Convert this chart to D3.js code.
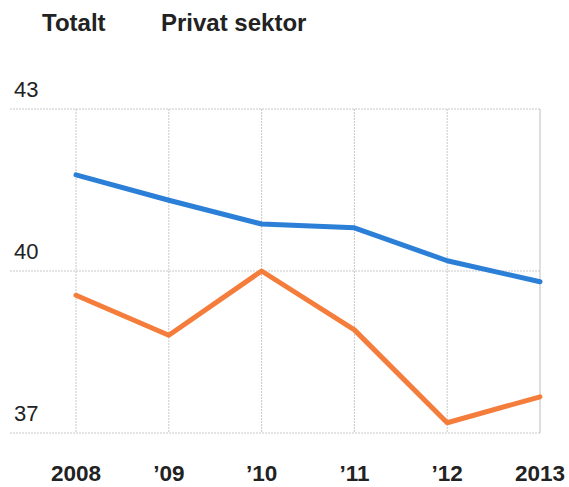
<!DOCTYPE html>
<html><head><meta charset="utf-8">
<script src="https://cdn.jsdelivr.net/npm/d3@7"></script>
<style>body{margin:0;background:#fff;}svg{display:block;font-family:"Liberation Sans",Arial,sans-serif;}</style>
</head><body>
<svg id="c" width="569" height="487"></svg>
<script>
const years = ["2008","’09","’10","’11","’12","2013"];
const totalt = [41.78, 41.31, 40.87, 40.80, 40.19, 39.80];
const privat = [39.55, 38.81, 40.00, 38.91, 37.19, 37.67];
const yTicks = [37, 40, 43];
const legendLabels = ["Totalt", "Privat sektor"];

const svg = d3.select("#c");
const x = d3.scalePoint().domain(years).range([76, 540]);
const y = d3.scaleLinear().domain([37, 43]).range([433, 109]);

// horizontal gridlines
svg.append("g").selectAll("line").data(yTicks).join("line")
  .attr("x1", 10).attr("x2", 540)
  .attr("y1", d => y(d)).attr("y2", d => y(d))
  .attr("stroke", "#c8c8c8").attr("stroke-width", 1).attr("stroke-dasharray", "2,1");
// vertical gridlines
svg.append("g").selectAll("line").data(years).join("line")
  .attr("x1", d => x(d)).attr("x2", d => x(d))
  .attr("y1", y(43)).attr("y2", y(37))
  .attr("stroke", (d,i) => i === years.length-1 ? "#bdbdbd" : "#c8c8c8")
  .attr("stroke-width", 1).attr("stroke-dasharray", (d,i) => i === years.length-1 ? null : "2,1");

// y labels
svg.append("g").selectAll("text").data(yTicks).join("text")
  .attr("x", 14).attr("y", d => y(d) - 12)
  .attr("font-size", 22).attr("fill", "#222").text(d => d);

// x labels
svg.append("g").selectAll("text").data(years).join("text")
  .attr("x", d => x(d)).attr("y", 481).attr("text-anchor", "middle")
  .attr("font-size", 22.5).attr("font-weight", "bold").attr("fill", "#222").text(d => d);

const line = d3.line().x((d,i) => x(years[i])).y(d => y(d));
svg.append("path").datum(totalt).attr("d", line)
  .attr("fill", "none").attr("stroke", "#2b7fd6").attr("stroke-width", 5)
  .attr("stroke-linejoin", "round").attr("stroke-linecap", "round");
svg.append("path").datum(privat).attr("d", line)
  .attr("fill", "none").attr("stroke", "#f57d3b").attr("stroke-width", 5)
  .attr("stroke-linejoin", "round").attr("stroke-linecap", "round");

// legend labels
svg.append("g").selectAll("text").data(legendLabels).join("text")
  .attr("x", (d,i) => [42, 161][i]).attr("y", 31)
  .attr("font-size", 24).attr("font-weight", "bold").attr("fill", "#222").text(d => d);
</script>
</body></html>
